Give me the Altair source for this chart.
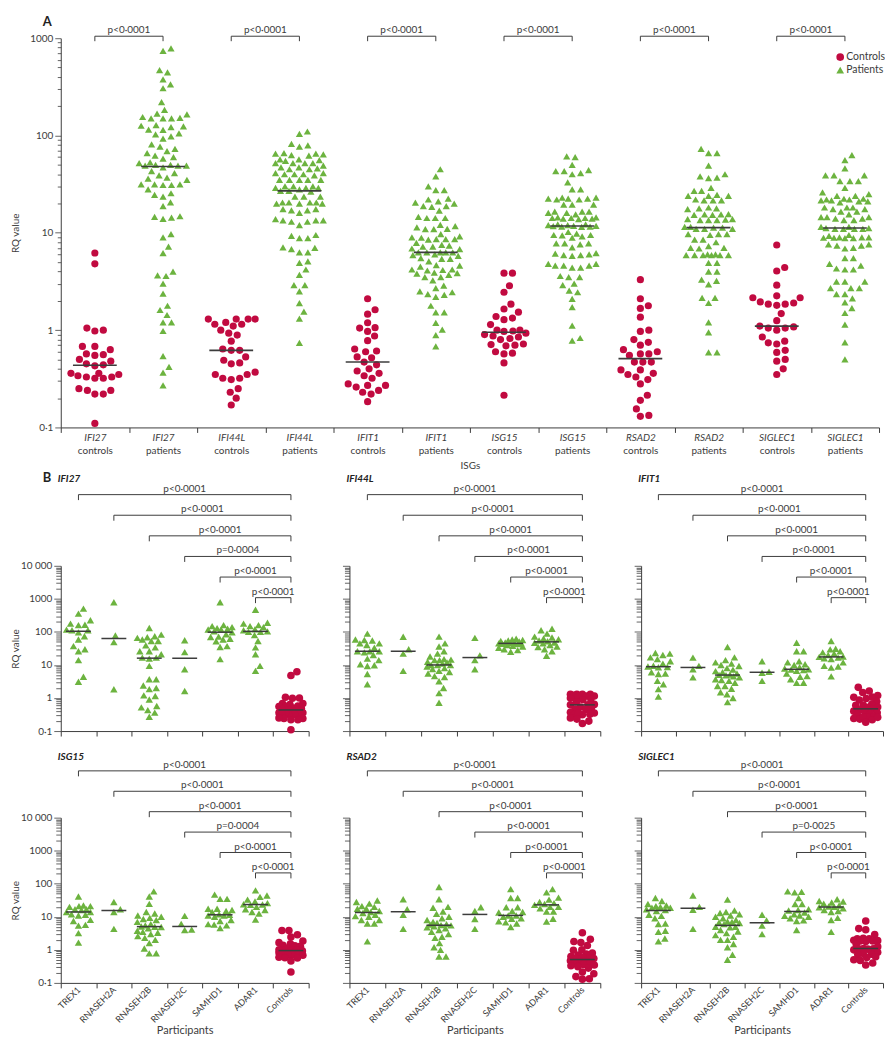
import math
import numpy as np
import pandas as pd
import altair as alt

# ---------------------------------------------------------------- data
GENES = ["IFI27", "IFI44L", "IFIT1", "ISG15", "RSAD2", "SIGLEC1"]
PARTICIPANTS = ["TREX1", "RNASEH2A", "RNASEH2B", "RNASEH2C", "SAMHD1", "ADAR1", "Controls"]
KINDS = ["Controls", "Patients"]
PANEL_LETTERS = ["A", "B"]
Y_TICKS_A = [0.1, 1, 10, 100, 1000]
Y_TICKS_B = [0.1, 1, 10, 100, 1000, 10000]

# panel A - controls
ctrl_IFI27 = [6.2, 4.8, 1.05, 0.98, 1.0, 0.68, 0.68, 0.63, 0.57, 0.56, 0.55, 0.5, 0.48, 0.45, 0.44,
              0.43, 0.36, 0.36, 0.34, 0.33, 0.32, 0.32, 0.35, 0.33, 0.24, 0.24, 0.25, 0.22, 0.22, 0.11]
ctrl_IFI44L = [1.3, 1.3, 1.3, 1.3, 1.2, 1.15, 1.15, 1.1, 1.0, 0.93, 0.89, 0.77, 0.62, 0.64, 0.62,
               0.53, 0.49, 0.46, 0.45, 0.37, 0.35, 0.32, 0.31, 0.32, 0.35, 0.25, 0.23, 0.2, 0.17]
ctrl_IFIT1 = [2.1, 1.46, 1.62, 1.19, 1.05, 0.97, 1.06, 0.87, 0.78, 0.61, 0.6, 0.64, 0.52, 0.53, 0.47,
              0.44, 0.4, 0.38, 0.36, 0.34, 0.32, 0.28, 0.27, 0.24, 0.23, 0.22, 0.26, 0.27, 0.184]
ctrl_ISG15 = [3.85, 3.85, 2.86, 2.45, 1.85, 1.65, 1.38, 1.53, 1.28, 1.33, 1.14, 1.0, 0.97, 1.0, 0.98,
              0.93, 0.9, 0.87, 0.85, 0.82, 0.8, 0.7, 0.72, 0.71, 0.69, 0.6, 0.57, 0.58, 0.46, 0.214]
ctrl_RSAD2 = [3.3, 2.1, 1.78, 1.67, 1.36, 1.0, 0.97, 0.8, 0.7, 0.75, 0.63, 0.57, 0.57, 0.6, 0.55,
              0.47, 0.47, 0.47, 0.39, 0.39, 0.36, 0.33, 0.35, 0.31, 0.28, 0.214, 0.19, 0.155, 0.13, 0.133]
ctrl_SIGLEC1 = [7.5, 4.4, 4.05, 2.9, 2.25, 1.95, 2.15, 2.15, 1.85, 1.8, 1.9, 1.85, 1.48, 1.25, 1.1,
                1.08, 1.0, 1.05, 1.05, 0.85, 0.77, 0.74, 0.72, 0.62, 0.59, 0.5, 0.48, 0.4, 0.35]

# panel A - patients
pat_IFI27 = [785, 740, 471, 446, 378, 336, 306, 220, 183, 168, 165, 155, 152, 150, 150, 150, 128, 126,
             124, 122, 115, 114, 105, 103, 98, 93, 81, 77, 73, 69, 66, 62, 60, 58, 53, 52, 50, 50, 49,
             49, 49, 47, 43, 41, 39, 37, 36, 35, 31.5, 31.5, 31.5, 31, 31, 28, 25.5, 24.5, 23.5, 20.6,
             18.8, 14.8, 14.6, 14.3, 13.9, 9.7, 9.0, 7.2, 6.2, 4.0, 3.65, 3.6, 3.0, 2.37, 1.78, 1.61,
             1.43, 1.2, 1.2, 0.98, 0.54, 0.42, 0.366, 0.27]
pat_IFI44L = [110, 104, 82, 77, 79, 65, 64, 62, 63, 65, 66, 57, 56, 55, 57, 52, 52, 52, 52, 47, 45, 45,
              46, 47, 49, 41, 40, 39, 40, 41, 40, 35, 35, 35, 35, 35, 30, 30, 29, 29, 29, 30, 28, 27,
              26.5, 27, 23.5, 23.5, 23.5, 20.5, 20.5, 20, 20, 20, 20.5, 20.5, 17.5, 17, 16, 17, 17.5,
              13.8, 13.4, 13, 12, 13, 13.4, 13.4, 9.5, 8.8, 8.8, 9.3, 7.1, 6.8, 7.0, 6.3, 6.3, 5.1,
              4.9, 4.2, 3.7, 2.9, 2.9, 2.5, 1.89, 1.55, 1.31, 0.74]
pat_IFIT1 = [45, 38, 30, 27.5, 27.5, 22.5, 22, 20.4, 18.8, 18.5, 18.8, 20, 21, 16.9, 14.6, 14.2, 14.2,
             14.2, 12.1, 11.4, 11.7, 10.9, 10.9, 11, 9.7, 9.0, 8.9, 9.2, 8.6, 8.5, 8.6, 8.6, 7.9, 7.2,
             7.4, 7.5, 6.9, 7.2, 6.8, 6.0, 5.8, 6.3, 6.3, 6.3, 6.3, 6.3, 5.9, 5.4, 5.1, 5.4, 5.5, 4.5,
             4.2, 4.65, 4.6, 4.1, 4.15, 4.2, 3.9, 3.8, 3.5, 3.24, 3.5, 3.7, 3.85, 2.86, 2.7, 2.5, 2.35,
             2.2, 2.3, 2.45, 1.78, 1.52, 1.52, 1.19, 1.01, 0.89, 0.68]
pat_ISG15 = [60, 61, 50, 44, 43, 40, 41, 43, 33, 28, 28, 23, 22.5, 22, 22.5, 23, 22, 22.5, 19.5, 19.5,
             19.5, 16.5, 16, 15.5, 16, 16.5, 16.5, 14.4, 14.2, 14, 14.4, 14.2, 14, 13.8, 14.2, 12, 11.8,
             12.2, 12, 12.2, 11.8, 11.6, 11.6, 11.7, 11.5, 9.8, 9.2, 10.2, 9.4, 9.5, 8.9, 9.5, 7.8, 7.6,
             7.8, 7.8, 7.1, 6.0, 5.8, 6.1, 5.9, 5.9, 6.2, 4.8, 4.6, 4.4, 4.4, 4.6, 4.6, 4.8, 3.5, 3.6,
             3.5, 2.9, 3.0, 2.45, 2.55, 2.1, 1.72, 1.11, 0.78, 0.83]
pat_RSAD2 = [73, 66, 66, 49, 36.5, 38, 40, 37, 29, 27, 27, 24, 24, 24, 24.5, 21.5, 22, 21.5, 21.5, 17.8,
             17.8, 17.5, 18.2, 15.5, 15.3, 15.3, 15.5, 15.6, 13.5, 13.8, 13.5, 13.8, 13.5, 13.7, 11,
             11.5, 11, 11, 11.5, 11.3, 11.3, 9.7, 9.7, 9.5, 9.7, 8.5, 8.5, 8.0, 7.0, 7.3, 6.9, 7.0, 5.9,
             5.9, 6.0, 5.9, 5.9, 6.0, 5.9, 5.9, 4.9, 4.9, 4.0, 4.0, 3.2, 2.95, 3.3, 1.9, 2.15, 2.15,
             1.2, 0.95, 0.59, 0.59]
pat_SIGLEC1 = [63, 56, 46, 39, 39, 39, 34, 34, 34, 29, 26, 25, 24, 24, 22.4, 22, 21.5, 21, 20.5, 21,
               21.5, 22, 22.4, 18.2, 17.5, 16.5, 15.5, 16.5, 17.5, 18.2, 18.2, 14.5, 14, 13.5, 13.5, 14,
               14.5, 14.5, 11.5, 11.2, 11, 11, 11, 11, 11.2, 11.5, 9.5, 9.0, 8.9, 8.8, 9.0, 8.8, 8.9,
               9.0, 9.3, 7.6, 7.4, 6.9, 7.4, 7.0, 7.6, 5.5, 5.5, 4.6, 4.2, 4.2, 4.3, 4.8, 3.15, 3.15,
               3.15, 2.7, 2.7, 2.7, 2.35, 2.35, 2.12, 1.93, 1.68, 1.5, 1.14, 0.75, 0.5]

P_A = ["p<0·0001", "p<0·0001", "p<0·0001", "p<0·0001", "p<0·0001", "p<0·0001"]

# panel B - patients by genotype (controls are the panel A controls)
B_IFI27 = {
    "TREX1": [507, 357, 225, 178, 160, 165, 117, 112, 112, 97, 59, 74, 37, 26, 30, 14, 4.4, 3.1],
    "RNASEH2A": [790, 78, 49, 1.84],
    "RNASEH2B": [131, 83, 74, 69, 66, 59, 53, 53, 39, 34, 26, 26, 21, 16.6, 16.6, 15.5, 9.4, 3.7, 3.7,
                 2.4, 1.85, 2.0, 1.15, 1.2, 0.9, 0.57, 0.52, 0.43, 0.36, 0.27],
    "RNASEH2C": [56, 24.5, 7.4, 1.63],
    "SAMHD1": [790, 150, 160, 125, 118, 118, 98, 85, 105, 72, 70, 59, 52, 62, 37, 35, 15, 130, 140],
    "ADAR1": [470, 178, 150, 190, 160, 112, 104, 100, 80, 100, 53, 34, 21, 9.4, 6.6, 120, 140],
}
B_IFI44L = {
    "TREX1": [89, 59, 57, 55, 45, 45, 40, 33, 26, 26, 26, 24, 20, 15.5, 14, 10.5, 9.8, 9.3, 5.3, 2.6],
    "RNASEH2A": [71, 30, 22, 6.6],
    "RNASEH2B": [72, 45, 36, 26, 22, 18, 15, 14.5, 14, 14, 12.5, 12, 11, 10, 10, 10, 9, 8, 7.5, 6.6, 6.1,
                 5.5, 4.6, 4.3, 3.2, 2.0, 1.4, 0.72],
    "RNASEH2C": [66, 19.5, 14, 7.4],
    "SAMHD1": [62, 59, 57, 55, 53, 51, 48, 47, 46, 45, 45, 44, 43, 40, 38, 36, 33, 30, 28, 25],
    "ADAR1": [124, 112, 89, 72, 68, 63, 60, 55, 52, 48, 47, 45, 40, 36, 35, 30, 26, 19],
}
B_IFIT1 = {
    "TREX1": [23, 22, 20, 17, 15, 13, 11, 9.5, 9.0, 8.7, 8.5, 6, 5.5, 5.3, 3.3, 2.6, 1.85, 1.1],
    "RNASEH2A": [16.6, 9.4, 7.4, 4.2],
    "RNASEH2B": [35, 17, 14, 12, 11, 10, 9.3, 8, 7.2, 6.5, 6, 5.5, 5.1, 5, 4.9, 4.5, 4.2, 3.7, 3.5, 3.3,
                 2.9, 2.3, 2.3, 1.9, 1.5, 1.3, 1.0, 0.75],
    "RNASEH2C": [13, 6.2, 5.8, 3.3],
    "SAMHD1": [47, 26, 26, 13, 12, 10.5, 10, 8.5, 7.8, 7.4, 7.2, 7.0, 6.6, 5.5, 4.6, 4.4, 3.7, 2.9, 2.9],
    "ADAR1": [53, 31, 29.5, 26, 24, 22, 20, 18, 17.5, 16.6, 16, 15, 12, 9.4, 9, 8.3, 4.5],
}
B_ISG15 = {
    "TREX1": [41, 22, 21, 20, 21, 17, 17, 16, 14, 14, 12, 11.5, 11, 8.1, 7.5, 5.7, 5.4, 3.2, 1.65],
    "RNASEH2A": [28, 17, 14, 4.3],
    "RNASEH2B": [59, 41, 24.6, 14, 12.6, 11, 10, 9.3, 8.6, 8, 7, 6, 5.5, 5.1, 5.0, 4.9, 4.5, 3.8, 3.5,
                 3.3, 3.0, 2.6, 2.3, 2.0, 1.6, 1.1, 0.79, 0.78],
    "RNASEH2C": [10.7, 6.1, 4.1, 4.0],
    "SAMHD1": [47, 35, 35, 17.5, 17.5, 16, 15, 14, 12, 11.5, 11, 11, 10, 8, 7.5, 6, 5.8, 5.5, 4.6],
    "ADAR1": [63, 44, 40, 33, 29, 26, 24, 23.5, 23, 20, 17, 16, 14, 12.5, 8.2],
}
B_RSAD2 = {
    "TREX1": [31, 28, 25, 21, 20, 17.5, 17.5, 15, 14, 13, 11.5, 10.5, 10, 8, 8, 6.3, 6.3, 1.8],
    "RNASEH2A": [34, 17, 11.5, 4.3],
    "RNASEH2B": [80, 34, 20, 18.7, 14.5, 12.3, 10, 9, 8, 7, 6.5, 6.0, 5.8, 5.6, 5.5, 5.2, 4.8, 4.5, 4,
                 3.5, 3, 2.5, 2.3, 1.6, 1.2, 1.0, 0.63, 0.63],
    "RNASEH2C": [19.5, 15, 8.6, 4.3],
    "SAMHD1": [69, 37, 37, 19.5, 19.5, 15, 14, 13.5, 11, 11, 10, 9, 8.7, 7.3, 6.8, 6.3, 4.9],
    "ADAR1": [69, 55, 38, 33, 28, 26, 24.5, 23, 20, 20, 18, 14.5, 14.5, 8.7, 7.2],
}
B_SIGLEC1 = {
    "TREX1": [37, 30, 24.5, 22, 21, 20, 18.7, 18.7, 17, 16, 15, 11.5, 10.7, 9, 6.3, 6, 3.8, 3.5, 2.2, 1.8],
    "RNASEH2A": [44, 20, 16.3, 4.3],
    "RNASEH2B": [33, 15.5, 14, 13, 12, 11, 10, 9, 8, 7.2, 7, 6.7, 6.5, 6, 5, 5, 4.8, 4, 3.6, 3.2, 2.8,
                 2.5, 2, 2, 1.5, 1.2, 0.71, 0.5],
    "RNASEH2C": [11.5, 7.8, 5.4, 3.0],
    "SAMHD1": [59, 57, 55, 37, 24.5, 24.5, 17, 16, 15.5, 13.5, 12, 11, 10.7, 10, 9, 7.8, 7.5, 4],
    "ADAR1": [34, 30, 29, 27, 25, 22, 20.5, 20, 19.5, 18, 16, 15, 14, 9.3, 8, 3.5],
}
P_B = {
    "IFI27": ["p<0·0001", "p<0·0001", "p<0·0001", "p=0·0004", "p<0·0001", "p<0·0001"],
    "IFI44L": ["p<0·0001", "p<0·0001", "p<0·0001", "p<0·0001", "p<0·0001", "p<0·0001"],
    "IFIT1": ["p<0·0001", "p<0·0001", "p<0·0001", "p<0·0001", "p<0·0001", "p<0·0001"],
    "ISG15": ["p<0·0001", "p<0·0001", "p<0·0001", "p=0·0004", "p<0·0001", "p<0·0001"],
    "RSAD2": ["p<0·0001", "p<0·0001", "p<0·0001", "p<0·0001", "p<0·0001", "p<0·0001"],
    "SIGLEC1": ["p<0·0001", "p<0·0001", "p<0·0001", "p=0·0025", "p<0·0001", "p<0·0001"],
}

A_CTRL = {"IFI27": ctrl_IFI27, "IFI44L": ctrl_IFI44L, "IFIT1": ctrl_IFIT1,
          "ISG15": ctrl_ISG15, "RSAD2": ctrl_RSAD2, "SIGLEC1": ctrl_SIGLEC1}
A_PAT = {"IFI27": pat_IFI27, "IFI44L": pat_IFI44L, "IFIT1": pat_IFIT1,
         "ISG15": pat_ISG15, "RSAD2": pat_RSAD2, "SIGLEC1": pat_SIGLEC1}
B_PAT = {"IFI27": B_IFI27, "IFI44L": B_IFI44L, "IFIT1": B_IFIT1,
         "ISG15": B_ISG15, "RSAD2": B_RSAD2, "SIGLEC1": B_SIGLEC1}

# ---------------------------------------------------------------- style / layout
RED = "#c10a40"
GREEN = "#6cb33f"
INK = "#3c3c3c"
FONT = "Lato"

W_A, H_A = 822, 391
W_B_COLS = [249, 252, 243]
H_B = 166
BW_A = W_A / 12
EXT = 38          # y-axis extent with labels
EXT_NOLAB = 7     # y-axis extent without labels


def swarm(values, px_per_dec, diam, max_half, step=0.5):
    """Deterministic beeswarm offsets (pixels) so markers do not overlap."""
    y = np.log10(np.asarray(values, float)) * px_per_dec
    cands = [0.0]
    k = 1
    while k * step <= max_half + 1e-9:
        cands += [k * step, -k * step]
        k += 1
    placed = []
    out = np.zeros(len(y))
    for i in np.argsort(y, kind="stable"):
        near = [(px, py) for px, py in placed if abs(py - y[i]) < diam]
        chosen, best_c, best_d = None, 0.0, -1.0
        for c in cands:
            d = min((math.hypot(c - px, y[i] - py) for px, py in near), default=1e9)
            if d >= diam:
                chosen = c
                break
            if d > best_d:
                best_d, best_c = d, c
        if chosen is None:
            chosen = best_c
        out[i] = chosen
        placed.append((chosen, y[i]))
    return out


MAJOR = "abs(log(datum.value)/LN10 - round(log(datum.value)/LN10)) < 0.001"


def tick_values(majors):
    vals = []
    for m in majors[:-1]:
        vals += [m * k for k in range(1, 10)]
    vals.append(majors[-1])
    return [float(f"{v:.6g}") for v in vals]


def y_axis(majors, show_labels, title, extent, major_len, minor_len):
    kw = dict(values=tick_values(majors),
              tickSize={"condition": {"test": MAJOR, "value": major_len}, "value": minor_len},
              labelOverlap=False, labelFlush=False, labelPadding=2,
              minExtent=extent, maxExtent=extent, grid=False,
              domainColor=INK, tickColor=INK, tickWidth=0.8, labelColor=INK, labelFontSize=10)
    if show_labels:
        kw["labelExpr"] = ("(" + MAJOR + ") ? (datum.value < 0.5 ? '0·1' : datum.value > 5000 ? "
                           "'10 000' : format(datum.value, 'd')) : ''")
    else:
        kw["labels"] = False
    if title:
        kw.update(title=title, titleFontSize=10, titleFontWeight="normal", titleColor=INK,
                  titlePadding=2)
    else:
        kw["title"] = None
    return alt.Axis(**kw)


def bracket_parts(br, n, lo, hi, leg, xaxis=None):
    """Significance brackets drawn in an (index, level) coordinate system above the plot."""
    legs = pd.concat([br[["x1", "level"]].rename(columns={"x1": "x"}),
                      br[["x2", "level"]].rename(columns={"x2": "x"})], ignore_index=True)
    legs["lev2"] = legs["level"] + leg
    xs = alt.Scale(domain=[-0.5, n - 0.5], nice=False, zero=False)
    ys = alt.Scale(domain=[lo, hi], nice=False, zero=False, reverse=True)
    horiz = alt.Chart(br).mark_rule(color=INK, strokeWidth=1).encode(
        x=alt.X("x1:Q", scale=xs, axis=xaxis), x2="x2:Q",
        y=alt.Y("level:Q", scale=ys, axis=None))
    vert = alt.Chart(legs).mark_rule(color=INK, strokeWidth=1).encode(
        x=alt.X("x:Q", scale=xs, axis=None),
        y=alt.Y("level:Q", scale=ys, axis=None), y2="lev2:Q")
    txt = alt.Chart(br).mark_text(baseline="bottom", dy=-1, fontSize=10, color=INK).encode(
        x=alt.X("xm:Q", scale=xs, axis=None),
        y=alt.Y("level:Q", scale=ys, axis=None), text="label:N")
    return [horiz, vert, txt], xs, ys


def heading(text, tx, ty, xs, ys, **style):
    df = pd.DataFrame({"text": [text], "tx": [tx], "ty": [ty]})
    return alt.Chart(df).mark_text(align="left", baseline="alphabetic", color="#222", **style).encode(
        x=alt.X("tx:Q", scale=xs, axis=None), y=alt.Y("ty:Q", scale=ys, axis=None), text="text:N")


def swarm_frame(groups, arrays, kinds, px_per_dec, diam, max_half, bw):
    rows = []
    for i, (grp, arr, kind) in enumerate(zip(groups, arrays, kinds)):
        offs = swarm(arr, px_per_dec, diam, max_half)
        for v, o in zip(arr, offs):
            rows.append({"grp": grp, "kind": kind, "value": v, "xpos": i + o / bw})
    return pd.DataFrame(rows)


# ---------------------------------------------------------------- panel A
A_DOMAIN = [f"{g} {k.lower()}" for g in GENES for k in KINDS]
dfA = swarm_frame(A_DOMAIN,
                  [A_CTRL[g] if k == "Controls" else A_PAT[g] for g in GENES for k in KINDS],
                  [k for g in GENES for k in KINDS], H_A / 4, 8.3, 24, BW_A)

ysA = alt.Scale(type="log", domain=[0.1, 1000], nice=False)
xqA = alt.Scale(domain=[-0.5, 11.5], nice=False, zero=False)
color_sc = alt.Scale(domain=KINDS, range=[RED, GREEN])
shape_sc = alt.Scale(domain=KINDS, range=["circle", "triangle-up"])

ptsA = alt.Chart(dfA).mark_point(filled=True, opacity=1, size=52).encode(
    x=alt.X("xpos:Q", scale=xqA, axis=None),
    y=alt.Y("value:Q", scale=ysA, axis=y_axis(Y_TICKS_A, True, "RQ value", EXT, 6, 3.5)),
    color=alt.Color("kind:N", scale=color_sc, legend=None),
    shape=alt.Shape("kind:N", scale=shape_sc, legend=None),
)
medA = alt.Chart(dfA).mark_tick(color=INK, thickness=1.6, size=44).encode(
    x=alt.X("grp:N", scale=alt.Scale(domain=A_DOMAIN, paddingInner=0, paddingOuter=0),
            axis=alt.Axis(title=None, labelExpr="split(datum.label, ' ')[0]", labelFontStyle="italic",
                          labelFontSize=10, labelAngle=0, tickBand="extent", tickSize=5,
                          labelPadding=0, domainColor=INK, tickColor=INK, labelColor=INK)),
    y=alt.Y("median(value):Q", scale=ysA, axis=None),
)
brA = pd.DataFrame({"x1": [2 * i for i in range(6)], "x2": [2 * i + 1 for i in range(6)],
                    "level": [0] * 6, "label": P_A})
brA["xm"] = (brA["x1"] + brA["x2"]) / 2
S_A = 20.0
loA = 2 / S_A
group_axis = alt.Axis(orient="bottom", values=list(range(12)),
                      labelExpr="['controls', 'patients'][datum.value % 2]",
                      domain=False, ticks=False, tickSize=0, grid=False, labelPadding=18.5,
                      labelFlush=False, labelOverlap=False, labelFontSize=10, labelColor=INK,
                      title="ISGs", titlePadding=5, titleFontSize=10, titleFontWeight="normal",
                      titleColor=INK)
partsA, xsA, ysbA = bracket_parts(brA, 12, loA, loA + H_A / S_A, 5 / S_A, xaxis=group_axis)

# legend drawn as marks in the bracket coordinate system (top right of panel A)
LEG_X, LEG_Y0, LEG_DY = 783, 19, 13
leg_df = pd.DataFrame({"kind": KINDS})
leg_df["lx"] = LEG_X / BW_A - 0.5
leg_df["ly"] = loA + (LEG_Y0 + LEG_DY * np.arange(len(KINDS))) / S_A
leg_sym = alt.Chart(leg_df).mark_point(filled=True, opacity=1, size=60).encode(
    x=alt.X("lx:Q", scale=xsA, axis=None), y=alt.Y("ly:Q", scale=ysbA, axis=None),
    color=alt.Color("kind:N", scale=color_sc, legend=None),
    shape=alt.Shape("kind:N", scale=shape_sc, legend=None))
leg_txt = alt.Chart(leg_df).mark_text(align="left", baseline="middle", dx=6, fontSize=10.5,
                                       color=INK).encode(
    x=alt.X("lx:Q", scale=xsA, axis=None), y=alt.Y("ly:Q", scale=ysbA, axis=None), text="kind:N")

letterA = heading(PANEL_LETTERS[0], -0.5 - 18 / BW_A, loA - 12 / S_A, xsA, ysbA,
                  fontSize=13, fontWeight="bold")

panelA = alt.layer(ptsA, medA, *partsA, leg_sym, leg_txt, letterA).resolve_scale(
    x="independent", y="independent").properties(width=W_A, height=H_A)


# ---------------------------------------------------------------- panel B
def panel_b(gene, col, row):
    w = W_B_COLS[col]
    bw = w / 7
    arrays = [A_CTRL[gene] if g == "Controls" else B_PAT[gene][g] for g in PARTICIPANTS]
    kinds = ["Controls" if g == "Controls" else "Patients" for g in PARTICIPANTS]
    df = swarm_frame(PARTICIPANTS, arrays, kinds, H_B / 5, 6.8, 12, bw)
    ys = alt.Scale(type="log", domain=[0.1, 10000], nice=False)
    xq = alt.Scale(domain=[-0.5, 6.5], nice=False, zero=False)
    if row == 0:
        xaxis = alt.Axis(title=None, labels=False, tickBand="extent", tickSize=5,
                         domainColor=INK, tickColor=INK)
    else:
        xaxis = alt.Axis(title="Participants", labelAngle=315, labelAlign="right", labelBaseline="middle",
                         labelFontSize=9, labelPadding=0, tickBand="extent", tickSize=5,
                         domainColor=INK, tickColor=INK, labelColor=INK, titleFontSize=11,
                         titleFontWeight="normal", titleColor=INK, titlePadding=0)
    yax = y_axis(Y_TICKS_B, col == 0, "RQ value" if col == 0 else None,
                 EXT if col == 0 else EXT_NOLAB, 7, 5)
    pat = alt.Chart(df).transform_filter("datum.kind == 'Patients'").mark_point(
        shape="triangle-up", filled=True, opacity=1, size=55, color=GREEN).encode(
        x=alt.X("xpos:Q", scale=xq, axis=None),
        y=alt.Y("value:Q", scale=ys, axis=yax))
    ctl = alt.Chart(df).transform_filter("datum.kind == 'Controls'").mark_point(
        shape="circle", filled=True, opacity=1, size=58, color=RED).encode(
        x=alt.X("xpos:Q", scale=xq, axis=None),
        y=alt.Y("value:Q", scale=ys, axis=None))
    med = alt.Chart(df).mark_tick(color=INK, thickness=1.5, size=25).encode(
        x=alt.X("grp:N", scale=alt.Scale(domain=PARTICIPANTS, paddingInner=0, paddingOuter=0),
                axis=xaxis),
        y=alt.Y("median(value):Q", scale=ys, axis=None))
    br = pd.DataFrame({"x1": list(range(6)), "x2": [6] * 6, "level": list(range(6)),
                       "label": P_B[gene]})
    br["xm"] = (br["x1"] + br["x2"]) / 2
    if row == 0:
        s, top, head = 20.7, -71.5, -84
    else:
        s, top, head = 20.5, -47, -58
    lo = -top / s
    parts, xs, ysb = bracket_parts(br, 7, lo, lo + H_B / s, 5.5 / s)
    layers = [pat, ctl, med] + parts
    layers.append(heading(gene, -0.5 - 3 / bw, lo + head / s, xs, ysb,
                          fontSize=10, fontWeight="bold", fontStyle="italic"))
    if row == 0 and col == 0:
        layers.append(heading(PANEL_LETTERS[1], -0.5 - 18 / bw, lo + head / s, xs, ysb,
                              fontSize=13, fontWeight="bold"))
    return alt.layer(*layers).resolve_scale(x="independent", y="independent").properties(
        width=w, height=H_B)


row1 = alt.hconcat(*[panel_b(g, i, 0) for i, g in enumerate(GENES[:3])], spacing=32)
row2 = alt.hconcat(*[panel_b(g, i, 1) for i, g in enumerate(GENES[3:])], spacing=32)

chart = alt.vconcat(panelA, alt.vconcat(row1, row2, spacing=15), spacing=0).properties(
    padding={"left": 3, "top": 6, "right": 0, "bottom": 0}, background="white"
).configure(font=FONT).configure_view(stroke=None)

chart.save("out.html", embed_options={"renderer": "svg", "actions": False})
